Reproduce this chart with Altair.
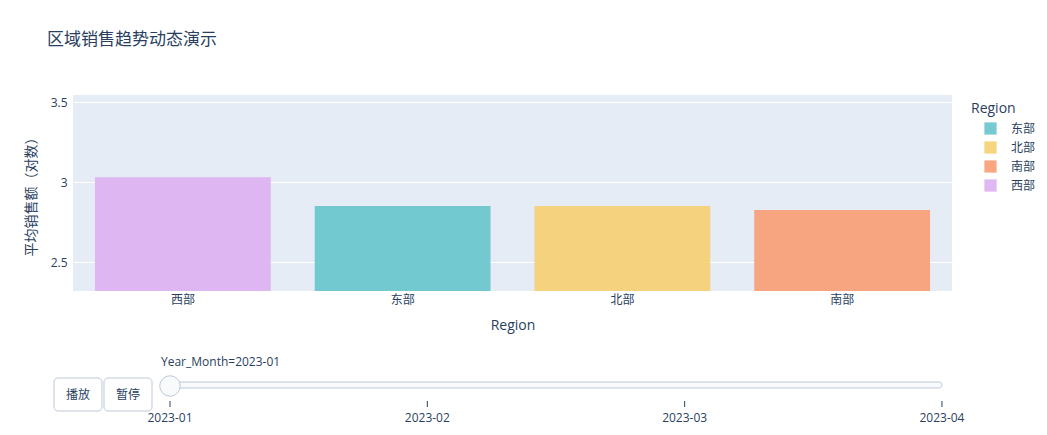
import altair as alt
import pandas as pd

# ---- data ----
regions = ["西部", "东部", "北部", "南部"]
avg_sales_log = [3.03, 2.85, 2.85, 2.825]
legend_order = ["东部", "北部", "南部", "西部"]
legend_colors = ["#66C5CC", "#F6CF71", "#F89C74", "#DCB0F2"]
months = ["2023-01", "2023-02", "2023-03", "2023-04"]
current_month = "2023-01"
buttons = ["播放", "暂停"]

FONT = "Open Sans, Noto Sans CJK SC, sans-serif"
TXT = "#2a3f5f"
SL = "#bec8d9"

bars_df = pd.DataFrame({"Region": regions, "Sales": avg_sales_log})
months_df = pd.DataFrame({"Year_Month": months, "idx": list(range(len(months)))})
cur_df = months_df[months_df["Year_Month"] == current_month].copy()
cur_df["label"] = "Year_Month=" + cur_df["Year_Month"]
span_df = pd.DataFrame({"start": [0], "end": [len(months) - 1]})

W, H = 879, 196

bars = alt.Chart(bars_df).mark_bar(clip=True, opacity=0.9).encode(
    x=alt.X("Region:N", sort=regions, scale=alt.Scale(paddingInner=0.2, paddingOuter=0.1),
            axis=alt.Axis(title="Region", labelAngle=0, ticks=False, domain=False, grid=False,
                          labelPadding=3, titlePadding=13, labelFontSize=12, titleFontSize=14,
                          labelColor=TXT, titleColor=TXT, titleFontWeight="normal",
                          labelFont=FONT, titleFont=FONT)),
    y=alt.Y("Sales:Q", scale=alt.Scale(domain=[2.319, 3.544], nice=False, zero=False),
            axis=alt.Axis(title="平均销售额（对数）", values=[2.5, 3, 3.5], format="~g",
                          ticks=False, domain=False, gridColor="white", gridWidth=1,
                          labelPadding=6, titlePadding=12, labelFontSize=12, titleFontSize=14,
                          labelColor=TXT, titleColor=TXT, titleFontWeight="normal",
                          labelFont=FONT, titleFont=FONT)),
    color=alt.Color("Region:N", scale=alt.Scale(domain=legend_order, range=legend_colors),
                    legend=alt.Legend(title="Region", orient="none", legendX=898, legendY=7,
                                      symbolType="square", symbolSize=150, symbolStrokeWidth=0,
                                      symbolOffset=13,
                                      labelFontSize=12, titleFontSize=14, titleFontWeight="normal",
                                      labelColor=TXT, titleColor=TXT, labelFont=FONT, titleFont=FONT,
                                      rowPadding=6, labelOffset=14, titlePadding=6,
                                      padding=0, offset=0)),
)

xs = alt.Scale(domain=[-0.377, 3.039], nice=False, zero=False)

track = alt.Chart(span_df).mark_rect(cornerRadius=3, fill="#f8fafc", stroke=SL, strokeWidth=1).encode(
    x=alt.X("start:Q", scale=xs, axis=None), x2="end:Q",
    y=alt.value(287), y2=alt.value(293),
)
ticks = alt.Chart(months_df).mark_rule(color=TXT, strokeWidth=1).encode(
    x=alt.X("idx:Q", scale=xs, axis=None), y=alt.value(306), y2=alt.value(312),
)
tick_labels = alt.Chart(months_df).mark_text(font=FONT, fontSize=12, color=TXT, baseline="middle").encode(
    x=alt.X("idx:Q", scale=xs, axis=None), y=alt.value(323), text="Year_Month:N",
)
handle = alt.Chart(cur_df).mark_point(shape="circle", filled=True, fill="#f8fafc", stroke=SL,
                                      strokeWidth=1, size=420, opacity=1).encode(
    x=alt.X("idx:Q", scale=xs, axis=None), y=alt.value(291),
)
cur_label = alt.Chart(cur_df).mark_text(font=FONT, fontSize=12, color=TXT, align="left",
                                        baseline="middle").encode(
    x=alt.value(88), y=alt.value(267), text="label:N",
)

btn_layers = []
for i, b in enumerate(buttons):
    bdf = pd.DataFrame({"b": [b]})
    x0 = -19 + i * 50
    btn_layers.append(alt.Chart(bdf).mark_rect(fill="white", stroke=SL, strokeWidth=1, cornerRadius=4).encode(
        x=alt.value(x0), x2=alt.value(x0 + 48), y=alt.value(283), y2=alt.value(316)))
    btn_layers.append(alt.Chart(bdf).mark_text(font=FONT, fontSize=12, color=TXT, baseline="middle").encode(
        x=alt.value(x0 + 24), y=alt.value(299.5), text="b:N"))

chart = alt.layer(bars, track, ticks, tick_labels, handle, cur_label, *btn_layers).resolve_scale(
    x="independent", y="independent", color="independent"
).properties(
    width=W, height=H,
    title=alt.TitleParams("区域销售趋势动态演示", anchor="start", frame="group", dx=-26, offset=46,
                          fontSize=17, font=FONT, color=TXT, fontWeight="normal"),
    autosize=alt.AutoSizeParams(type="none"),
    padding={"left": 65, "top": 87, "right": 87, "bottom": 136},
    background="white",
).configure_view(fill="#E5ECF6", stroke=None)

chart.save("out.html", embed_options={"renderer": "svg", "actions": False})
